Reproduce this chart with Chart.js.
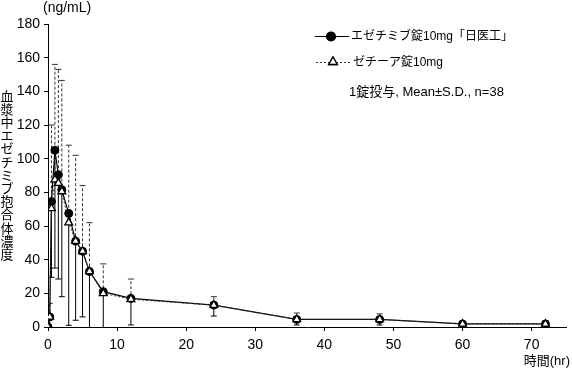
<!DOCTYPE html>
<html lang="ja">
<head>
<meta charset="UTF-8">
<title>血漿中エゼチミブ抱合体濃度推移</title>
<style>
  body { margin: 0; background: #fff; }
  .chart-box { position: relative; width: 572px; height: 368px; }
</style>
</head>
<body>
<div class="chart-box"><canvas id="pkChart"></canvas></div>

<script src="https://cdn.jsdelivr.net/npm/chart.js"></script>
<script>
  // sampling times (hr) and plasma levels (ng/mL)
  const hours    = [0, 0.25, 0.5, 1, 1.5, 2, 3, 4, 5, 6, 8, 12, 24, 36, 48, 60, 72];
  const testMean = [0, 6, 74.5, 105, 90.5, 81.5, 67.5, 51, 45, 33, 21, 17, 13, 4.5, 4.5, 1.8, 1.8];
  const testSD   = [0, 8, 45, 70, 62, 63.5, 66.5, 47, 39, 36, 23, 15.8, 6.5, 3.3, 3.3, 1.4, 1.4];
  const refMean  = [0, 6, 70.5, 87.5, 85.5, 80.5, 62, 51, 45, 33, 20, 16.5, 13, 4.5, 4.5, 1.8, 1.8];
  const refSD    = [0, 8, 49.5, 68.5, 67.5, 66, 46, 51, 39, 29, 17.5, 12, 5, 3.8, 3.3, 1.3, 1.9];

  const xTicks = [0, 10, 20, 30, 40, 50, 60, 70];
  const yTicks = [0, 20, 40, 60, 80, 100, 120, 140, 160, 180];

  const testLabel = 'エゼチミブ錠10mg「日医工」';
  const refLabel = 'ゼチーア錠10mg';
  const noteText = '1錠投与, Mean±S.D., n=38';
  const yTitle = '血漿中エゼチミブ抱合体濃度';
  const unitText = '(ng/mL)';
  const xTitle = '時間(hr)';

  const FONT = '"Liberation Sans", "Noto Sans CJK JP", sans-serif';

  function drawBar(ctx, px, from, to, dash) {
    ctx.setLineDash(dash);
    ctx.beginPath();
    ctx.moveTo(px, from);
    ctx.lineTo(px, to);
    ctx.stroke();
    ctx.setLineDash([]);
    ctx.beginPath();
    ctx.moveTo(px - 3, to);
    ctx.lineTo(px + 3, to);
    ctx.stroke();
  }

  // S.D. bars: test drug downward (solid), reference upward (dashed)
  const errorBars = {
    id: 'errorBars',
    beforeDatasetsDraw(chart) {
      const { ctx, chartArea, scales: { x, y } } = chart;
      ctx.save();
      ctx.beginPath();
      ctx.rect(chartArea.left, chartArea.top - 2, chartArea.right - chartArea.left, chartArea.bottom - chartArea.top + 2);
      ctx.clip();
      ctx.lineWidth = 1;
      hours.forEach((t, i) => {
        const px = x.getPixelForValue(t);
        if (testSD[i] > 0) {
          ctx.strokeStyle = '#000';
          drawBar(ctx, px, y.getPixelForValue(testMean[i]), y.getPixelForValue(testMean[i] - testSD[i]), []);
        }
        if (refSD[i] > 0) {
          ctx.strokeStyle = '#333';
          drawBar(ctx, px, y.getPixelForValue(refMean[i]), y.getPixelForValue(refMean[i] + refSD[i]), [3, 2]);
        }
      });
      ctx.restore();
    }
  };

  // legend, note, unit and the stacked vertical y title
  const extras = {
    id: 'extras',
    afterDraw(chart) {
      const ctx = chart.ctx;
      ctx.save();
      ctx.fillStyle = '#000';
      ctx.strokeStyle = '#000';

      // legend row 1
      ctx.lineWidth = 1.2;
      ctx.beginPath();
      ctx.moveTo(315, 36.5);
      ctx.lineTo(349, 36.5);
      ctx.stroke();
      Chart.helpers.drawPoint(ctx, { pointStyle: 'circle', radius: 4.5, borderWidth: 1 }, 331, 36.5);
      ctx.fill();

      // legend row 2
      ctx.lineWidth = 1;
      ctx.strokeStyle = '#333';
      ctx.setLineDash([2, 2]);
      ctx.beginPath();
      ctx.moveTo(316, 62.5);
      ctx.lineTo(350, 62.5);
      ctx.stroke();
      ctx.setLineDash([]);
      ctx.fillStyle = '#fff';
      ctx.strokeStyle = '#000';
      ctx.lineWidth = 1.3;
      Chart.helpers.drawPoint(ctx, { pointStyle: 'triangle', radius: 5, borderWidth: 1.3 }, 333, 62);
      ctx.fill();
      ctx.stroke();

      ctx.fillStyle = '#000';
      ctx.font = '12px ' + FONT;
      ctx.textBaseline = 'middle';
      ctx.textAlign = 'left';
      ctx.fillText(testLabel, 351, 37);
      ctx.fillText(refLabel, 353, 63);
      ctx.font = '13px ' + FONT;
      ctx.fillText(noteText, 349, 92);

      ctx.font = '14px ' + FONT;
      ctx.fillText(unitText, 43, 8);

      ctx.font = '13px ' + FONT;
      ctx.textAlign = 'right';
      ctx.fillText(xTitle, 570, 361);

      ctx.textAlign = 'center';
      const chars = Array.from(yTitle);
      chars.forEach((c, i) => ctx.fillText(c, 7, 97 + i * 13.2));
      ctx.restore();
    }
  };

  const ctx = document.getElementById('pkChart').getContext('2d');

  new Chart(ctx, {
    type: 'scatter',
    data: {
      datasets: [
        {
          label: testLabel,
          data: hours.map((t, i) => ({ x: t, y: testMean[i] })),
          showLine: true,
          borderColor: '#000',
          borderWidth: 1.2,
          backgroundColor: '#000',
          pointStyle: 'circle',
          pointRadius: 4,
          pointBorderWidth: 1,
          order: 2
        },
        {
          label: refLabel,
          data: hours.map((t, i) => ({ x: t, y: refMean[i] })),
          showLine: true,
          borderColor: '#333',
          borderWidth: 1,
          borderDash: [2, 2],
          backgroundColor: '#fff',
          pointBorderColor: '#000',
          pointBackgroundColor: '#fff',
          pointStyle: 'triangle',
          pointRadius: 4.5,
          pointBorderWidth: 1.3,
          order: 1
        }
      ]
    },
    options: {
      responsive: true,
      maintainAspectRatio: false,
      animation: false,
      layout: { padding: { left: 0, top: 24, right: 1, bottom: 0 } },
      plugins: {
        legend: { display: false },
        tooltip: { enabled: false }
      },
      scales: {
        x: {
          type: 'linear',
          min: 0,
          max: 75,
          afterBuildTicks: s => { s.ticks = xTicks.map(v => ({ value: v })); },
          afterFit: s => { s.height = 41; s.paddingLeft = 0; s.paddingRight = 0; },
          ticks: { color: '#000', padding: 6, font: { size: 14, family: FONT } },
          grid: { drawOnChartArea: false, tickLength: 4, color: '#000' },
          border: { color: '#000', width: 1 }
        },
        y: {
          min: 0,
          max: 180,
          afterBuildTicks: s => { s.ticks = yTicks.map(v => ({ value: v })); },
          afterFit: s => { s.width = 48; s.paddingTop = 0; s.paddingBottom = 0; },
          ticks: { color: '#000', padding: 4, font: { size: 14, family: FONT } },
          grid: { drawOnChartArea: false, tickLength: 4, color: '#000' },
          border: { color: '#000', width: 1 }
        }
      }
    },
    plugins: [errorBars, extras]
  });
</script>
</body>
</html>
